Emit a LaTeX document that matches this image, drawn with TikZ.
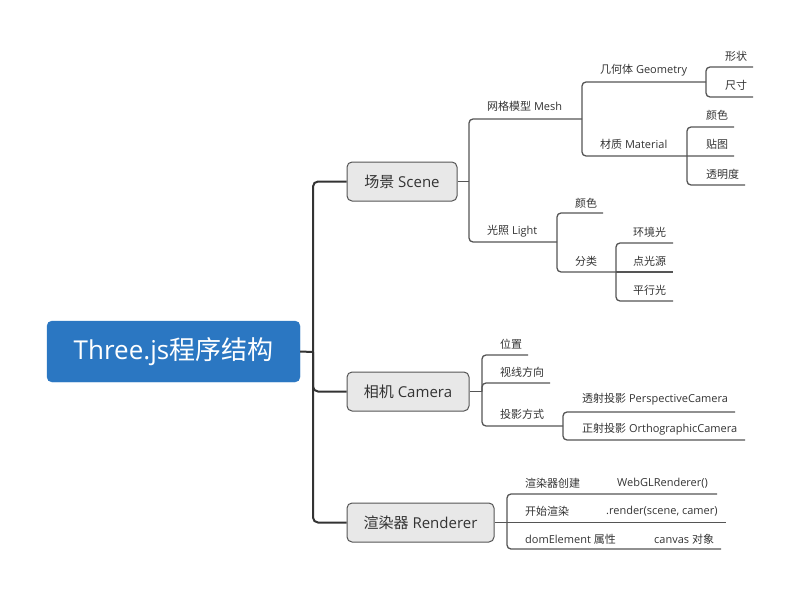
\documentclass[tikz,border=0pt]{standalone}
\usepackage{fontspec}
\setmainfont{Open Sans}
\newfontfamily\cjk{Noto Sans CJK SC}
\definecolor{rootblue}{HTML}{2B77C2}
\definecolor{boxfill}{HTML}{E8E8E8}
\definecolor{boxline}{HTML}{555555}
\definecolor{txt}{HTML}{333333}
\definecolor{trunkc}{HTML}{333333}
\definecolor{subc}{HTML}{555555}
\tikzset{
  rootbox/.style={draw=rootblue, fill=rootblue, rounded corners=5pt, minimum width=253pt, minimum height=61pt, inner sep=0pt, text=white, font=\fontsize{26}{29}\selectfont},
  topbox/.style={draw=boxline, fill=boxfill, line width=1pt, rounded corners=5pt, minimum height=39pt, inner sep=0pt, text=txt, font=\fontsize{15}{18}\selectfont},
  lbl/.style={anchor=west, inner sep=0pt, text=txt, font=\fontsize{11}{13}\selectfont},
  trunk/.style={draw=trunkc, line width=2pt, rounded corners=5pt},
  sub/.style={draw=subc, line width=1.3pt, rounded corners=4pt}
}
\begin{document}
\begin{tikzpicture}[x=1pt,y=-1pt]
\useasboundingbox (0,0) rectangle (800,597);
% main nodes
\node[rootbox] (root) at (173.5,351.5) {Three.js{\cjk 程序结构}};
\node[topbox, minimum width=110pt] (scene) at (402,181.5) {{\cjk 场景} Scene};
\node[topbox, minimum width=122pt] (camera) at (408,391.5) {{\cjk 相机} Camera};
\node[topbox, minimum width=147pt] (renderer) at (420.5,522.5) {{\cjk 渲染器} Renderer};
% trunk
\coordinate (tm) at (313,352);
\draw[trunk] (root.east) -- (tm);
\draw[trunk] (scene.west) -| (tm) |- (renderer.west);
\draw[trunk] (tm) |- (camera.west);
% scene branch
\coordinate (sceneV) at (469,181.5);
\coordinate (meshV) at (582,119);
\coordinate (lightV) at (557,242);
\coordinate (geoV) at (706,82);
\coordinate (matV) at (687,156);
\coordinate (clsV) at (616,272);
\coordinate (shapeE) at (753,67);
\coordinate (sizeE) at (753,97);
\coordinate (mcolE) at (734,127);
\coordinate (texE) at (734,156);
\coordinate (alphaE) at (745,185);
\coordinate (lcolE) at (603,213);
\coordinate (envE) at (673,243);
\coordinate (pointE) at (673,272);
\coordinate (parE) at (673,301);
\draw[sub] (scene.east) -- (sceneV);
\draw[sub] (meshV) -| (sceneV) |- (lightV);
\draw[sub] (geoV) -| (meshV) |- (texE);
\draw[sub] (shapeE) -| (geoV) |- (sizeE);
\draw[sub] (mcolE) -| (matV) |- (alphaE);
\draw[sub] (lcolE) -| (lightV) |- (clsV);
\draw[sub] (envE) -| (clsV) |- (parE);
\draw[sub] (clsV) -- (pointE);
\node[lbl] (mesh) at (487,106) {{\cjk 网格模型} Mesh};
\node[lbl] (light) at (487,231) {{\cjk 光照} Light};
\node[lbl] (geo) at (600,70) {{\cjk 几何体} Geometry};
\node[lbl] (mat) at (600,144) {{\cjk 材质} Material};
\node[lbl] (shape) at (725,56) {\cjk 形状};
\node[lbl] (size) at (725,85) {\cjk 尺寸};
\node[lbl] (mcol) at (706,115) {\cjk 颜色};
\node[lbl] (tex) at (706,144) {\cjk 贴图};
\node[lbl] (alpha) at (706,174) {\cjk 透明度};
\node[lbl] (lcol) at (575,203) {\cjk 颜色};
\node[lbl] (cls) at (575,261) {\cjk 分类};
\node[lbl] (env) at (633,232) {\cjk 环境光};
\node[lbl] (point) at (633,261) {\cjk 点光源};
\node[lbl] (par) at (633,290) {\cjk 平行光};
% camera branch
\coordinate (camV) at (482,391.5);
\coordinate (posE) at (528,355);
\coordinate (sightE) at (550,383);
\coordinate (projV) at (563,426);
\coordinate (perspE) at (735,412);
\coordinate (orthoE) at (745,440);
\draw[sub] (camera.east) -- (camV);
\draw[sub] (posE) -| (camV) |- (projV);
\draw[sub] (camV) |- (sightE);
\draw[sub] (perspE) -| (projV) |- (orthoE);
\node[lbl] (pos) at (500,344) {\cjk 位置};
\node[lbl] (sight) at (500,372) {\cjk 视线方向};
\node[lbl] (proj) at (500,414) {\cjk 投影方式};
\node[lbl] (persp) at (582,399) {{\cjk 透射投影} PerspectiveCamera};
\node[lbl] (ortho) at (582,429) {{\cjk 正射投影} OrthographicCamera};
% renderer branch
\coordinate (rendV) at (507,522.5);
\coordinate (createE) at (717,494);
\coordinate (startE) at (726,522.5);
\coordinate (domE) at (721,549);
\draw[sub] (renderer.east) -- (rendV) -- (startE);
\draw[sub] (createE) -| (rendV) |- (domE);
\node[lbl] (create) at (525,483) {\cjk 渲染器创建};
\node[lbl] (webgl) at (617,483) {WebGLRenderer()};
\node[lbl] (start) at (525,511) {\cjk 开始渲染};
\node[lbl] (render) at (606,511) {.render(scene, camer)};
\node[lbl] (dom) at (525,539) {domElement {\cjk 属性}};
\node[lbl] (canvas) at (654,539) {canvas {\cjk 对象}};
\end{tikzpicture}
\end{document}
